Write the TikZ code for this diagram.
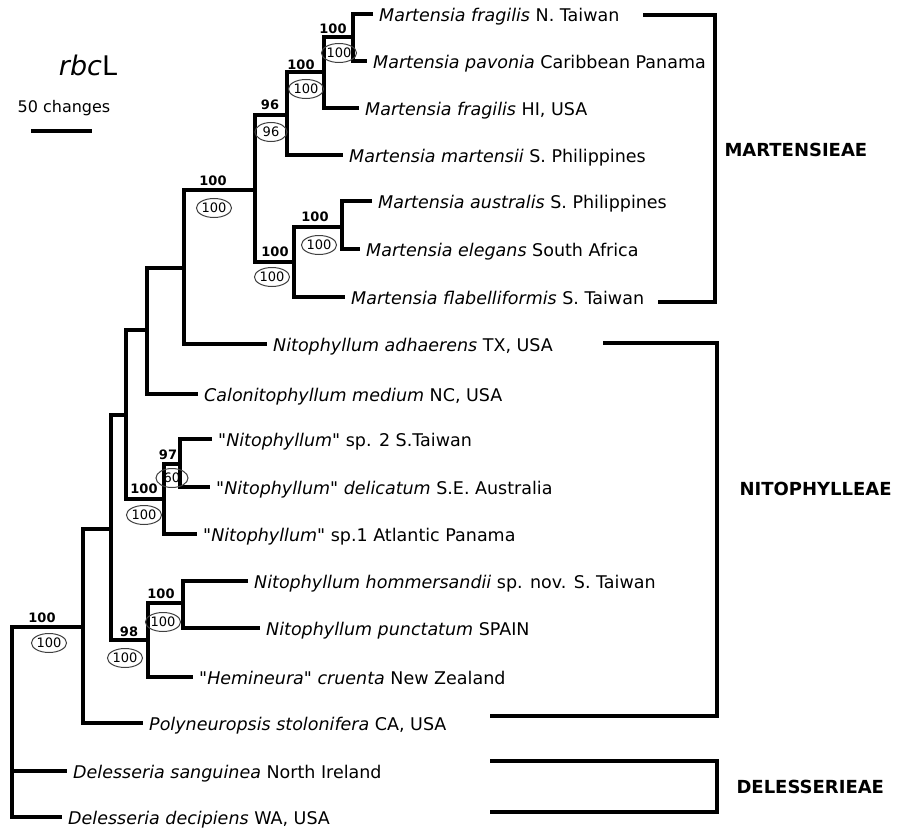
\documentclass[tikz,border=0pt]{standalone}
\usepackage{fontspec}
\setmainfont{DejaVu Sans}[Ligatures=TeXOff]
\usepackage{tikz}
\usetikzlibrary{positioning,shapes.geometric}

\begin{document}
\begin{tikzpicture}[x=1pt, y=-1pt,
    branch/.style={line width=3.6pt},
    taxon/.style={anchor=west, inner xsep=6pt, inner ysep=0pt, text height=15pt, text depth=0pt,
      font=\fontsize{17.5}{20}\selectfont},
    bs/.style={inner sep=0pt, font=\fontsize{13}{15}\selectfont\bfseries},
    pp/.style={ellipse, draw=black!75, line width=1pt, minimum width=32pt, minimum height=19pt,
      inner sep=0pt, font=\fontsize{13}{15}\selectfont},
    clade/.style={line width=3.2pt},
    cladename/.style={anchor=west, font=\fontsize{18}{20}\selectfont\bfseries}]

\useasboundingbox (0,0) rectangle (902,832);

\node[font=\fontsize{27}{30}\selectfont] (gene) at (88,65) {\textit{rbc}L};
\node[font=\fontsize{16}{18}\selectfont] (scale) at (64,108) {50 changes};
\coordinate (s1) at (31,131);
\coordinate (s2) at (92,131);
\draw[branch] (s1) -- (s2);

\node[taxon] (t1) at (373,14) {\textit{Martensia fragilis} N. Taiwan};
\node[taxon] (t2) at (367,61) {\textit{Martensia pavonia} Caribbean Panama};
\node[taxon] (t3) at (359,108) {\textit{Martensia fragilis} HI, USA};
\node[taxon] (t4) at (343,155) {\textit{Martensia martensii} S. Philippines};
\node[taxon] (t5) at (372,201) {\textit{Martensia australis} S. Philippines};
\node[taxon] (t6) at (360,249) {\textit{Martensia elegans} South Africa};
\node[taxon] (t7) at (345,297) {\textit{Martensia flabelliformis} S. Taiwan};
\node[taxon] (t8) at (267,344) {\textit{Nitophyllum adhaerens} TX, USA};
\node[taxon] (t9) at (198,394) {\textit{Calonitophyllum medium} NC, USA};
\node[taxon] (t10) at (212,439) {\textit{"Nitophyllum"} sp. 2 S.Taiwan};
\node[taxon] (t11) at (210,487) {\textit{"Nitophyllum" delicatum} S.E. Australia};
\node[taxon] (t12) at (197,534) {\textit{"Nitophyllum"} sp.1 Atlantic Panama};
\node[taxon] (t13) at (248,581) {\textit{Nitophyllum hommersandii} sp. nov. S. Taiwan};
\node[taxon] (t14) at (260,628) {\textit{Nitophyllum punctatum} SPAIN};
\node[taxon] (t15) at (193,677) {\textit{"Hemineura" cruenta} New Zealand};
\node[taxon] (t16) at (143,723) {\textit{Polyneuropsis stolonifera} CA, USA};
\node[taxon] (t17) at (67,771) {\textit{Delesseria sanguinea} North Ireland};
\node[taxon] (t18) at (62,817) {\textit{Delesseria decipiens} WA, USA};

\coordinate (A) at (353,37);
\coordinate (B) at (324,72);
\coordinate (C) at (287,115);
\coordinate (D) at (342,227);
\coordinate (E) at (294,262);
\coordinate (F) at (255,190);
\coordinate (G) at (184,268);
\coordinate (H) at (147,330);
\coordinate (I) at (180,464);
\coordinate (J) at (164,499);
\coordinate (K) at (126,415);
\coordinate (L) at (183,603);
\coordinate (M) at (148,640);
\coordinate (N) at (111,529);
\coordinate (O) at (83,627);
\coordinate (R) at (12,627);

\draw[branch] (t1) -| (A) |- (t2);
\draw[branch] (A) -| (B) |- (t3);
\draw[branch] (B) -| (C) |- (t4);
\draw[branch] (t5) -| (D) |- (t6);
\draw[branch] (D) -| (E) |- (t7);
\draw[branch] (C) -| (F) |- (E);
\draw[branch] (F) -| (G) |- (t8);
\draw[branch] (G) -| (H) |- (t9);
\draw[branch] (t10) -| (I) |- (t11);
\draw[branch] (I) -| (J) |- (t12);
\draw[branch] (H) -| (K) |- (J);
\draw[branch] (t13) -| (L) |- (t14);
\draw[branch] (L) -| (M) |- (t15);
\draw[branch] (K) -| (N) |- (M);
\draw[branch] (N) -| (O) |- (t16);
\draw[branch] (O) -| (R) |- (t18);
\draw[branch] (R) |- (t17);

\node[bs] (bA) at (333,29) {100};  \node[pp] (pA) at (339,53) {100};
\node[bs] (bB) at (301,65) {100};  \node[pp] (pB) at (306,89) {100};
\node[bs] (bC) at (270,105) {96};  \node[pp] (pC) at (271,132) {96};
\node[bs] (bF) at (213,181) {100}; \node[pp] (pF) at (214,208) {100};
\node[bs] (bD) at (315,217) {100}; \node[pp] (pD) at (319,245) {100};
\node[bs] (bE) at (275,252) {100}; \node[pp] (pE) at (272,277) {100};
\node[bs] (bI) at (168,455) {97};  \node[pp] (pI) at (172,478) {60};
\node[bs] (bJ) at (144,489) {100}; \node[pp] (pJ) at (144,515) {100};
\node[bs] (bL) at (161,594) {100}; \node[pp] (pL) at (163,622) {100};
\node[bs] (bM) at (129,632) {98};  \node[pp] (pM) at (125,658) {100};
\node[bs] (bO) at (42,618) {100};  \node[pp] (pO) at (49,643) {100};

\coordinate (m1) at (643,15);
\coordinate (mx) at (715,150);
\coordinate (m2) at (658,302);
\draw[clade] (m1) -| (mx) |- (m2);
\node[cladename, right=6pt of mx] (mart) {MARTENSIEAE};

\coordinate (n1) at (603,343);
\coordinate (nx) at (717,489);
\coordinate (n2) at (490,716);
\draw[clade] (n1) -| (nx) |- (n2);
\node[cladename, right=19pt of nx] (nito) {NITOPHYLLEAE};

\coordinate (d1) at (490,761);
\coordinate (dx) at (717,787);
\coordinate (d2) at (490,812);
\draw[clade] (d1) -| (dx) |- (d2);
\node[cladename, right=16pt of dx] (dele) {DELESSERIEAE};
\end{tikzpicture}
\end{document}
